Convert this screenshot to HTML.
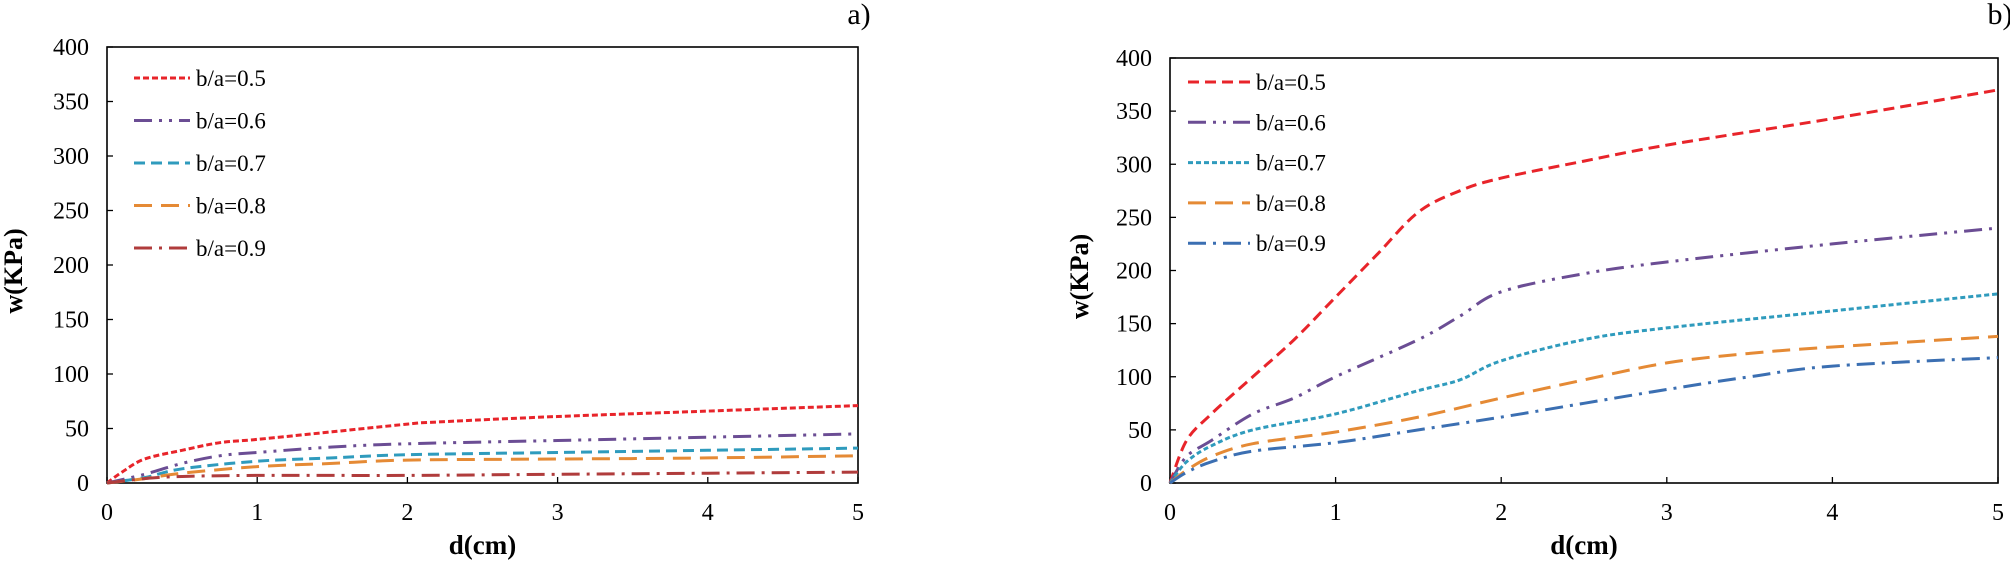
<!DOCTYPE html>
<html><head><meta charset="utf-8"><style>
html,body{margin:0;padding:0;background:#fff;}
svg{display:block;font-family:"Liberation Serif",serif;}
</style></head><body>
<svg id="svg" width="2010" height="562" viewBox="0 0 2010 562"></svg>
<script>
const xTicks=[0,1,2,3,4,5];
const yTicks=[0,50,100,150,200,250,300,350,400];
const legendLabels=["b/a=0.5","b/a=0.6","b/a=0.7","b/a=0.8","b/a=0.9"];
// panel a
const aX05=[0,0.1,0.25,0.5,0.75,1,1.5,2,2.2,3,4,5];
const aY05=[0,10,22,30,37,40,47,54,56,61,66,71];
const aX06=[0,0.25,0.5,0.75,1,1.5,2,3,4,5];
const aY06=[0,8,18,25,28,33,36,39,42,45];
const aX07=[0,0.25,0.5,1,1.5,2,3,4,5];
const aY07=[0,5,13,20,23,26,28,30,32];
const aX08=[0,0.25,0.5,1,1.5,2,3,4,5];
const aY08=[0,4,9,15,18,21,22,23,25];
const aX09=[0,0.25,0.5,1,2,3,4,5];
const aY09=[0,4,6,7,7,8,9,10];
// panel b
const bX05=[0,0.1,0.25,0.5,0.75,1,1.25,1.5,1.75,2,2.5,3,4,5];
const bY05=[0,40,65,100,135,175,215,255,275,287,303,318,343,370];
const bX06=[0,0.1,0.25,0.5,0.75,1,1.5,1.75,2,2.5,3,4,5];
const bY06=[0,25,40,65,80,100,135,157,180,197,208,225,240];
const bX07=[0,0.1,0.25,0.5,1,1.5,1.75,2,2.5,3,4,5];
const bY07=[0,20,35,50,65,87,97,115,135,146,162,178];
const bX08=[0,0.1,0.25,0.5,1,1.5,2,2.5,3,3.5,4,5];
const bY08=[0,12,25,37,48,62,80,97,113,122,128,138];
const bX09=[0,0.1,0.25,0.5,1,1.5,2,2.5,3,3.5,4,5];
const bY09=[0,10,20,30,38,50,62,75,88,100,110,118];

const NS="http://www.w3.org/2000/svg";
const svg=document.getElementById('svg');
function mk(tag,attrs,parent){const e=document.createElementNS(NS,tag);for(const k in attrs)e.setAttribute(k,attrs[k]);(parent||svg).appendChild(e);return e;}

function smooth(pts){
  let d='M'+pts[0][0].toFixed(1)+','+pts[0][1].toFixed(1);
  for(let i=0;i<pts.length-1;i++){
    const p0=pts[i-1]||pts[i],p1=pts[i],p2=pts[i+1],p3=pts[i+2]||p2;
    const c1=[p1[0]+(p2[0]-p0[0])/6,p1[1]+(p2[1]-p0[1])/6];
    const c2=[p2[0]-(p3[0]-p1[0])/6,p2[1]-(p3[1]-p1[1])/6];
    d+=' C'+c1.map(v=>v.toFixed(1)).join(',')+' '+c2.map(v=>v.toFixed(1)).join(',')+' '+p2.map(v=>v.toFixed(1)).join(',');
  }
  return d;
}

function panel(cfg){
  const g=mk('g',{});
  
  
  const sx=v=>cfg.x0+(cfg.x1-cfg.x0)*v/5;
  const sy=v=>cfg.y0-(cfg.y0-cfg.y1)*v/400;
  const frame=mk('rect',{x:cfg.x0,y:cfg.y1,width:cfg.x1-cfg.x0,height:cfg.y0-cfg.y1,fill:'none',stroke:'#000','stroke-width':1.6},g);
  
  
  xTicks.forEach(t=>{
    mk('line',{x1:sx(t),x2:sx(t),y1:cfg.y0,y2:cfg.y0-6,stroke:'#000','stroke-width':1.3},g);
    const tx=mk('text',{x:sx(t),y:cfg.y0+37,'font-size':24,'text-anchor':'middle'},g);
    tx.textContent=t;
    
    
  });
  yTicks.forEach(t=>{
    mk('line',{x1:cfg.x0,x2:cfg.x0+6,y1:sy(t),y2:sy(t),stroke:'#000','stroke-width':1.3},g);
    const tx=mk('text',{x:cfg.x0-18,y:sy(t)+8,'font-size':24,'text-anchor':'end'},g);
    tx.textContent=t;
    
    
  });
  const xt=mk('text',{x:(cfg.x0+cfg.x1)/2,y:554,'font-size':27,'font-weight':'bold','text-anchor':'middle'},g);
  xt.textContent='d(cm)';
  
  
  const yt=mk('text',{x:0,y:0,'font-size':26,'font-weight':'bold','text-anchor':'middle',transform:`translate(${cfg.ytX},${(cfg.y0+cfg.y1)/2+6}) rotate(-90)`},g);
  yt.textContent='w(KPa)';
  
  
  const pl=mk('text',{x:cfg.labX,y:24,'font-size':30,'text-anchor':'middle'},g);
  pl.textContent=cfg.label;
  
  
  cfg.series.forEach((s,i)=>{
    const pts=s.xs.map((x,j)=>[sx(x),sy(s.ys[j])]);
    const p=mk('path',{d:smooth(pts),fill:'none',stroke:s.color,'stroke-width':3,'stroke-dasharray':s.dash},g);
    
    
    const ly=cfg.legY+i*cfg.legStep;
    const ll=mk('line',{x1:cfg.legX,x2:cfg.legX+cfg.legW,y1:ly,y2:ly,stroke:s.color,'stroke-width':3,'stroke-dasharray':s.dash},g);
    
    
    const lt=mk('text',{x:cfg.legX+cfg.legW+6,y:ly+8,'font-size':23},g);
    lt.textContent=legendLabels[i];
    
    
  });
}
panel({name:'chart-a',label:'a)',labX:859,x0:107,x1:858,y0:483,y1:47,ytX:22,legX:134,legW:56,legY:78,legStep:42.5,
 series:[
  {xs:aX05,ys:aY05,color:'#e8242a',dash:'6,3'},
  {xs:aX06,ys:aY06,color:'#6b4d94',dash:'18,7,3,7,3,7'},
  {xs:aX07,ys:aY07,color:'#2f9bbd',dash:'11,6'},
  {xs:aX08,ys:aY08,color:'#e58a35',dash:'18,9'},
  {xs:aX09,ys:aY09,color:'#b03c3c',dash:'18,7,3,7'}]});
panel({name:'chart-b',label:'b)',labX:2000,x0:1170,x1:1998,y0:483,y1:58,ytX:1088,legX:1188,legW:62,legY:82,legStep:40.3,
 series:[
  {xs:bX05,ys:bY05,color:'#e8242a',dash:'11,6'},
  {xs:bX06,ys:bY06,color:'#6b4d94',dash:'18,7,3,7,3,7'},
  {xs:bX07,ys:bY07,color:'#2f9bbd',dash:'5,3'},
  {xs:bX08,ys:bY08,color:'#e58a35',dash:'18,9'},
  {xs:bX09,ys:bY09,color:'#3b6fb2',dash:'18,7,3,7'}]});
</script>
</body></html>
